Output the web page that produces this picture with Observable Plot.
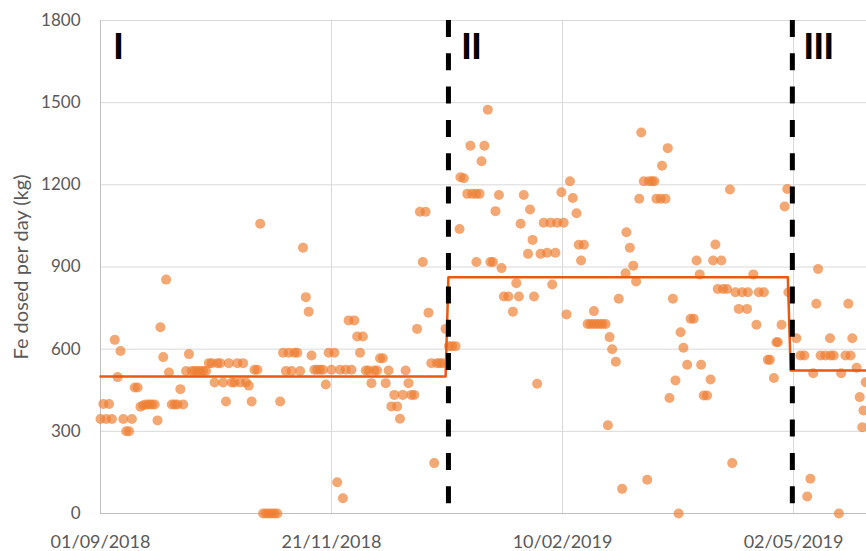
<!DOCTYPE html>
<html><head><meta charset="utf-8">
<script src="https://cdn.jsdelivr.net/npm/d3@7"></script>
<script src="https://cdn.jsdelivr.net/npm/@observablehq/plot@0.6"></script>
<style>body{margin:0;background:#fff}</style>
</head><body><div id="chart"></div>
<script>
// ---- data ----
const startDate = "2018-09-01T00:00:00Z";
const xEnd = "2019-05-27T14:00:00Z";
const xTicks = ["2018-09-01","2018-11-21","2019-02-10","2019-05-02"];
const yTicks = [0, 300, 600, 900, 1200, 1500, 1800];
const yLabel = "Fe dosed per day (kg)";
const periodLabels = ["I", "II", "III"];
const periodStarts = ["2018-09-01", "2019-01-01", "2019-05-01"];
const periodMeans = [500, 863, 522];
const dividers = ["2019-01-01T00:00:00Z", "2019-05-01T14:00:00Z"];

// days since 01/09/2018 and Fe dosed (kg) per day
const daysI = [0,1,2,3,4,5,6,7,8,9,10,11,12,13,14,15,16,17,18,19,20,21,22,23,24,25,26,27,28,29,30,31,32,33,34,35,36,37,38,39,40,41,42,43,44,45,46,47,48,49,50,51,52,53,54,55,56,57,58,59,60,61,62,63,64,65,66,67,68,69,70,71,72,73,74,75,76,77,78,79,80,81,82,83,84,85,86,87,88,89,90,91,92,93,94,95,96,97,98,99,100,101,102,103,104,105,106,107,108,109,110,111,112,113,114,115,116,117,118,119,120,121];
const feI = [345,400,345,400,345,634,498,593,345,300,
  300,345,460,460,390,395,398,398,398,398,
  340,680,571,854,515,398,398,398,454,398,
  520,582,520,520,520,520,520,520,549,549,
  478,549,549,478,409,549,478,478,549,478,
  549,478,467,409,525,525,1058,0,0,0,
  0,0,0,409,587,520,587,520,587,587,
  520,970,790,737,577,525,525,525,525,471,
  587,525,587,114,525,56,525,705,525,705,
  646,587,646,522,522,476,522,522,567,567,
  476,522,391,433,391,346,433,522,476,433,
  433,674,1102,918,1102,733,549,184,549,549,
  549,674];
const daysII = [122.2,123.3,124.5,125.9,126.2,127.4,128.6,129.7,130.3,131.7,131.8,132.9,133.6,134.6,135.8,136.7,137.6,138.5,139.7,140.6,141.4,143.0,144.6,145.8,146.7,147.3,148.4,149.9,150.6,151.5,152.0,153.1,154.3,155.4,156.6,157.8,158.4,159.5,160.1,161.6,162.4,163.4,164.6,165.6,166.9,167.7,168.5,169.5,170.8,171.8,172.9,173.0,173.9,175.0,176.0,177.1,177.9,178.5,179.4,180.7,181.7,182.9,184.1,184.4,185.6,186.8,187.8,188.9,189.6,190.5,191.7,192.3,193.4,194.2,194.9,196.4,196.9,198.1,198.9,199.5,200.7,201.6,202.7,203.4,204.4,205.7,206.9,208.0,209.0,210.1,210.6,211.5,212.7,213.9,214.8,215.6,216.4,217.7,218.3,219.7,220.7,221.5,222.6,223.8,225.0,226.7,227.0,228.9,230.0,230.8,232.6,234.0,234.7,236.1,237.0,237.5,238.8,239.9,240.8,241.2];
const feII = [611,611,611,1039,1228,1224,1167,1343,1167,1167,918,1167,1286,1343,1474,918,918,1104,1163,896,792,792,737,841,792,1058,1163,948,1110,999,792,474,948,1062,952,1062,836,952,1062,1173,1062,727,1213,1152,1096,981,924,981,692,692,692,739,692,692,692,692,322,644,600,554,784,90,877,1027,970,905,847,1149,1391,1213,123,1213,1213,1213,1149,1149,1270,1149,1334,422,784,486,0,662,605,543,711,711,924,873,543,431,431,489,924,982,820,924,820,820,1183,184,808,747,808,747,808,873,689,808,808,561,561,495,625,625,689,1121,1185,808];
const daysIII = [244.0,245.4,246.8,247.8,248.9,249.9,251.0,251.6,252.5,254.2,255.8,256.0,257.1,258.9,259.7,261.2,262.2,263.0,263.6,265.1,266.2,267.1,267.5,268.3];
const feIII = [640,577,577,62,127,512,766,893,577,577,640,577,577,0,512,577,766,577,640,532,425,315,376,479];

// ---- build tables ----
const t0 = new Date(startDate).getTime();
const DAY = 864e5;
const days = [...daysI, ...daysII, ...daysIII];
const fe = [...feI, ...feII, ...feIII];
const points = days.map((d, i) => ({date: new Date(t0 + d * DAY), fe: fe[i]}));
const end = new Date(xEnd);
const meanLine = periodStarts.flatMap((s, i) => {
  const a = new Date(s + "T00:00:00Z");
  const b = i < periodStarts.length - 1 ? new Date(new Date(periodStarts[i + 1] + "T00:00:00Z").getTime() - DAY) : end;
  return [{date: a, v: periodMeans[i]}, {date: b, v: periodMeans[i]}];
});
const labels = periodLabels.map((t, i) => ({t, date: new Date(periodStarts[i] + "T00:00:00Z"), top: 1800}));
const xTickDates = xTicks.map(s => new Date(s + "T00:00:00Z"));
const dividerDates = dividers.map(s => new Date(s));

const chart = Plot.plot({
  width: 866, height: 551,
  marginTop: 20, marginBottom: 38, marginLeft: 100, marginRight: 0,
  style: {fontFamily: "Lato, sans-serif", background: "white", overflow: "visible"},
  x: {type: "utc", domain: [new Date(startDate), end]},
  y: {domain: [0, 1800]},
  marks: [
    Plot.gridY(yTicks, {stroke: "#D9D9D9", strokeOpacity: 1, strokeWidth: 1}),
    Plot.gridX(xTickDates, {stroke: "#D9D9D9", strokeOpacity: 1, strokeWidth: 1}),
    Plot.ruleY([0], {stroke: "#BFBFBF"}),
    Plot.ruleX([new Date(startDate)], {stroke: "#BFBFBF"}),
    Plot.axisY(yTicks, {tickSize: 0, tickPadding: 20, fontSize: 17, color: "#595959", label: null, tickFormat: d3.format("d")}),
    Plot.axisX(xTickDates, {tickSize: 0, tickPadding: 22, fontSize: 18, color: "#595959", label: null, tickFormat: d3.utcFormat("%d/%m/%Y")}),
    Plot.dot(points, {x: "date", y: "fe", r: 5, fill: "#ED7D31", fillOpacity: 0.68}),
    Plot.line(meanLine, {x: "date", y: "v", stroke: "#E85A10", strokeWidth: 2.5}),
    Plot.ruleX(dividerDates, {stroke: "black", strokeWidth: 5, strokeDasharray: "17,16.3"}),
    Plot.text(labels, {x: "date", y: "top", text: "t", dx: 13, dy: 38.5, textAnchor: "start", lineAnchor: "bottom",
      fontSize: 36, fontWeight: "bold", fontFamily: "Liberation Sans", fill: "black"}),
    Plot.text([yLabel], {frameAnchor: "left", dx: -73, rotate: -90, textAnchor: "middle", lineAnchor: "bottom",
      fontSize: 20, fill: "#595959"})
  ]
});
document.getElementById("chart").appendChild(chart);
</script>
</body></html>
